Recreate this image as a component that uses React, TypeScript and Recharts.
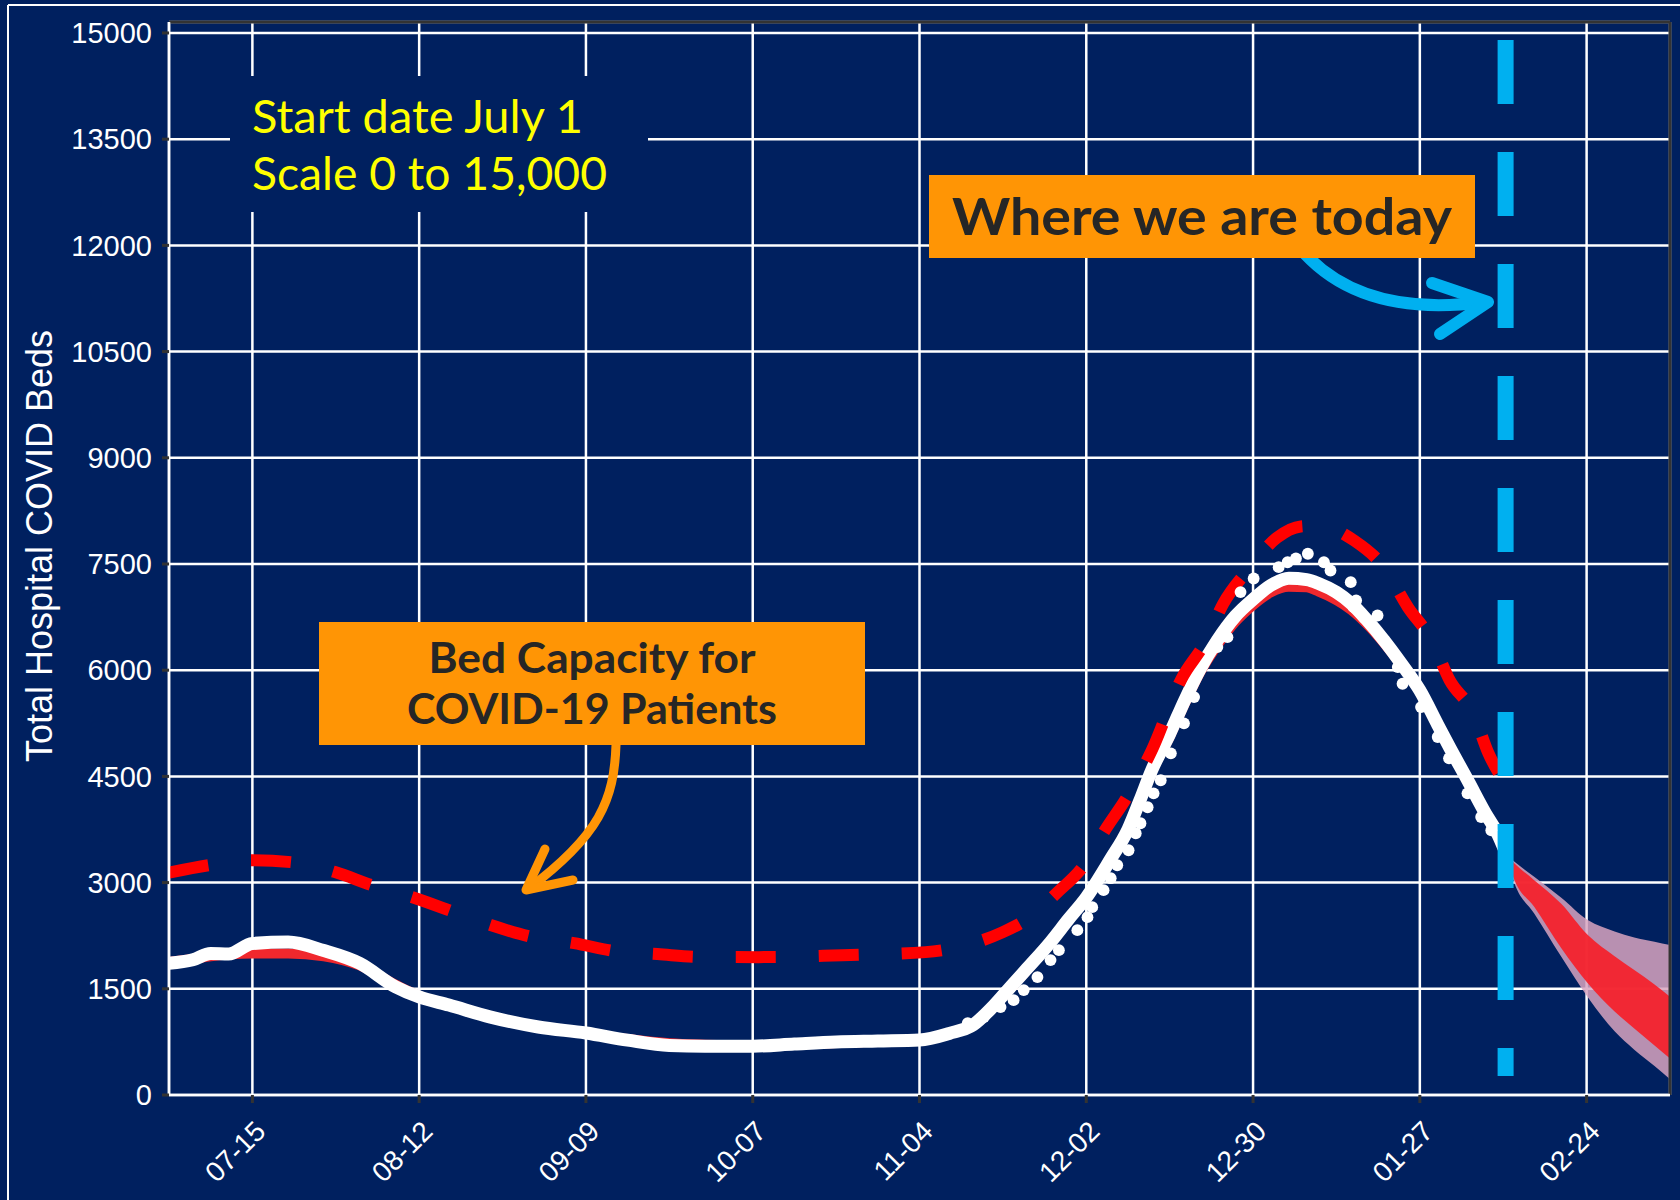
import React from "react";
import {
  ComposedChart,
  Line,
  Area,
  Scatter,
  XAxis,
  YAxis,
  ZAxis,
  CartesianGrid,
  ReferenceLine,
} from "recharts";

const BG = "#00205f";

// x = days since July 1
const xTicks = [14, 42, 70, 98, 126, 154, 182, 210, 238];
const xTickLabels = ["07-15", "08-12", "09-09", "10-07", "11-04", "12-02", "12-30", "01-27", "02-24"];
const yTicks = [0, 1500, 3000, 4500, 6000, 7500, 9000, 10500, 12000, 13500, 15000];

// observed hospital beds (smoothed white line)
const obsDays = [0, 4, 7, 10, 14, 20, 26, 32, 38, 42, 47, 54, 62, 70, 77, 84, 90, 98, 105, 112, 119, 126, 131, 135, 138, 141, 144, 148, 151, 154, 158, 161, 163, 165, 168, 170.5, 173, 176, 179, 182, 185, 188, 191, 193, 196, 198.5, 201, 204, 207, 210, 213, 215, 218, 221, 223, 224.4];
const obsBeds = [1860, 1910, 2000, 1990, 2140, 2160, 2040, 1860, 1530, 1385, 1270, 1100, 960, 875, 775, 700, 690, 690, 720, 748, 762, 776, 870, 990, 1220, 1500, 1780, 2160, 2480, 2790, 3320, 3750, 4160, 4590, 5100, 5570, 6000, 6420, 6760, 7000, 7200, 7300, 7280, 7225, 7100, 6940, 6720, 6420, 6080, 5715, 5230, 4910, 4450, 3980, 3700, 3430];

// model fit (red, mostly hidden under the white line)
const fitBeds = [1880, 1920, 1960, 1985, 2000, 2000, 1960, 1830, 1560, 1400, 1270, 1110, 970, 870, 790, 730, 710, 700, 712, 735, 755, 780, 860, 980, 1200, 1480, 1760, 2150, 2470, 2780, 3300, 3730, 4130, 4560, 5060, 5520, 5950, 6350, 6680, 6920, 7100, 7180, 7170, 7110, 6990, 6850, 6660, 6380, 6060, 5700, 5220, 4900, 4440, 3970, 3690, 3360];

// individual daily observations around the winter surge
const ptDays = [134.1, 136.8, 139.6, 141.8, 143.5, 145.8, 148, 149.4, 152.5, 154.2, 155, 156.9, 158.1, 159.2, 161.1, 162.3, 163.1, 164.3, 165.3, 166.5, 168.2, 170.4, 172.1, 176, 177.7, 179.9, 182.1, 186.3, 187.8, 189.2, 191.2, 193.9, 195, 198.4, 198.9, 199.3, 202.9, 204, 206.3, 207.1, 210.2, 213, 214.9, 218, 220.3, 222];
const ptBeds = [1016, 1101, 1242, 1340, 1482, 1665, 1905, 2046, 2328, 2512, 2653, 2893, 3062, 3245, 3457, 3697, 3838, 4064, 4261, 4445, 4826, 5249, 5620, 6326, 6467, 7103, 7295, 7455, 7525, 7577, 7644, 7525, 7408, 7243, 6890, 6985, 6773, 6420, 6044, 5809, 5479, 5056, 4755, 4261, 3927, 3739];

// bed capacity for COVID-19 patients (red dashed)
const capDays = [0, 7, 14, 21, 28, 34, 41, 48, 54, 61, 68, 75, 82, 89, 99, 113, 127, 134, 140, 144, 149, 154, 157, 161, 165, 170, 174, 177, 181, 186, 190, 193, 199, 204, 208, 212, 215, 219, 221.5, 224.4];
const capBeds = [3140, 3250, 3315, 3285, 3145, 2965, 2790, 2580, 2400, 2230, 2145, 2030, 1990, 1950, 1947, 1975, 2018, 2120, 2300, 2480, 2850, 3290, 3720, 4230, 4870, 5880, 6400, 6940, 7400, 7870, 8030, 8040, 7830, 7450, 6890, 6420, 5860, 5390, 4830, 4400];

// forecast bands
const fcDays = [224.4, 225.9, 229.2, 233.7, 238.2, 242.7, 246, 249.4, 252];
const fcOuterHi = [3400, 3293, 3081, 2790, 2470, 2310, 2225, 2165, 2117];
const fcInnerHi = [3400, 3269, 3034, 2705, 2260, 1960, 1764, 1560, 1388];
const fcInnerLo = [3400, 3034, 2658, 2080, 1580, 1180, 941, 700, 517];
const fcOuterLo = [3400, 2987, 2564, 1960, 1380, 900, 640, 410, 221];

const todayDay = 224.4;

const obsData = obsDays.map((d, i) => ({ day: d, beds: obsBeds[i], fit: fitBeds[i] }));
const ptData = ptDays.map((d, i) => ({ day: d, beds: ptBeds[i] }));
const capData = capDays.map((d, i) => ({ day: d, cap: capBeds[i] }));
const fcData = fcDays.map((d, i) => ({
  day: d,
  outer: [fcOuterLo[i], fcOuterHi[i]],
  inner: [fcInnerLo[i], fcInnerHi[i]],
}));

function XTick(props: any) {
  const { x, y, payload } = props;
  const idx = xTicks.indexOf(payload.value);
  return (
    <g transform={`translate(${x + 15},${y + 28})`}>
      <text
        textAnchor="end"
        transform="rotate(-45)"
        fill="#ffffff"
        fontSize={28}
        fontFamily="Liberation Sans, Arial, sans-serif"
      >
        {idx >= 0 ? xTickLabels[idx] : ""}
      </text>
    </g>
  );
}

export default function App() {
  return (
    <div
      style={{
        position: "absolute",
        left: 0,
        top: 0,
        width: 1680,
        height: 1200,
        background: BG,
        overflow: "hidden",
      }}
    >
      <ComposedChart width={1680} height={1200} margin={{ top: 22, right: 10, left: 0, bottom: 0 }}>
        <CartesianGrid stroke="#ffffff" strokeWidth={2.5} />
        <XAxis
          dataKey="day"
          type="number"
          domain={[0, 252]}
          ticks={xTicks}
          interval={0}
          height={105}
          tickSize={8}
          tick={<XTick />}
          tickLine={{ stroke: "#333333", strokeWidth: 3 }}
          axisLine={{ stroke: "#ffffff", strokeWidth: 2.5 }}
        />
        <YAxis
          type="number"
          domain={[0, 15155]}
          ticks={yTicks}
          interval={0}
          width={169}
          tickSize={7}
          tickMargin={10}
          tick={{ fill: "#ffffff", fontSize: 29, fontFamily: "Liberation Sans, Arial, sans-serif" }}
          tickLine={{ stroke: "#333333", strokeWidth: 3 }}
          axisLine={{ stroke: "#ffffff", strokeWidth: 2.5 }}
        />
        <ZAxis range={[110, 110]} />
        <Area
          data={fcData}
          dataKey="outer"
          type="monotone"
          stroke="none"
          fill="#d8a5c0"
          fillOpacity={0.85}
          isAnimationActive={false}
        />
        <Area
          data={fcData}
          dataKey="inner"
          type="monotone"
          stroke="none"
          fill="#f52029"
          fillOpacity={0.92}
          isAnimationActive={false}
        />
        <Line
          data={obsData}
          dataKey="fit"
          type="monotone"
          stroke="#f0282d"
          strokeWidth={10}
          dot={false}
          isAnimationActive={false}
        />
        <Line
          data={obsData}
          dataKey="beds"
          type="monotone"
          stroke="#ffffff"
          strokeWidth={13}
          dot={false}
          isAnimationActive={false}
        />
        <Scatter data={ptData} dataKey="beds" fill="#ffffff" shape="circle" isAnimationActive={false} />
        <Line
          data={capData}
          dataKey="cap"
          type="monotone"
          stroke="#ff0000"
          strokeWidth={12}
          strokeDasharray="40 43"
          dot={false}
          isAnimationActive={false}
        />
        <ReferenceLine
          segment={[
            { x: todayDay, y: 14900 },
            { x: todayDay, y: 268 },
          ]}
          stroke="#00b0f0"
          strokeWidth={16}
          strokeDasharray="64 48"
        />
        <ReferenceLine y={15155} stroke="#333333" strokeWidth={3} />
        <ReferenceLine x={252} stroke="#333333" strokeWidth={3} />
      </ComposedChart>

      <svg
        width={1680}
        height={1200}
        style={{ position: "absolute", left: 0, top: 0, pointerEvents: "none" }}
      >
        {/* slide frame */}
        <line x1={8} y1={5} x2={1680} y2={5} stroke="#ffffff" strokeWidth={2} />
        <line x1={8} y1={5} x2={8} y2={1200} stroke="#ffffff" strokeWidth={2} />

        {/* y axis title */}
        <text
          transform="translate(52,546) rotate(-90)"
          textAnchor="middle"
          fill="#ffffff"
          fontSize={36}
          fontFamily="Liberation Sans, Arial, sans-serif"
        >
          Total Hospital COVID Beds
        </text>

        {/* start date note */}
        <rect x={230} y={76} width={418} height={136} fill={BG} />
        <text x={252} y={133} fill="#ffff00" fontSize={46} fontFamily="Lato, sans-serif" textLength={331} lengthAdjust="spacingAndGlyphs">
          Start date July 1
        </text>
        <text x={252} y={190} fill="#ffff00" fontSize={46} fontFamily="Lato, sans-serif" textLength={355} lengthAdjust="spacingAndGlyphs">
          Scale 0 to 15,000
        </text>

        {/* today arrow + box */}
        <path d="M1305 254 Q1365 318 1484 302" fill="none" stroke="#00b0f0" strokeWidth={12} strokeLinecap="round" />
        <path d="M1432 283 L1488 302 L1440 334" fill="none" stroke="#00b0f0" strokeWidth={12} strokeLinecap="round" strokeLinejoin="round" />
        <rect x={929} y={175} width={546} height={83} fill="#ff9505" />
        <text x={952} y={235} fill="#262626" fontSize={52} fontWeight="bold" fontFamily="Lato, sans-serif" textLength={500} lengthAdjust="spacingAndGlyphs">
          Where we are today
        </text>

        {/* bed capacity box + arrow */}
        <path d="M616 745 C614 800 600 835 528 889" fill="none" stroke="#ff9505" strokeWidth={9} strokeLinecap="round" />
        <path d="M545 849 L526 890 L573 880" fill="none" stroke="#ff9505" strokeWidth={9} strokeLinecap="round" strokeLinejoin="round" />
        <rect x={319} y={622} width={546} height={123} fill="#ff9505" />
        <text x={592} y={673} textAnchor="middle" fill="#262626" fontSize={42} fontWeight="bold" fontFamily="Lato, sans-serif" textLength={327} lengthAdjust="spacingAndGlyphs">
          Bed Capacity for
        </text>
        <text x={592} y={724} textAnchor="middle" fill="#262626" fontSize={42} fontWeight="bold" fontFamily="Lato, sans-serif" textLength={370} lengthAdjust="spacingAndGlyphs">
          COVID-19 Patients
        </text>
      </svg>
    </div>
  );
}
